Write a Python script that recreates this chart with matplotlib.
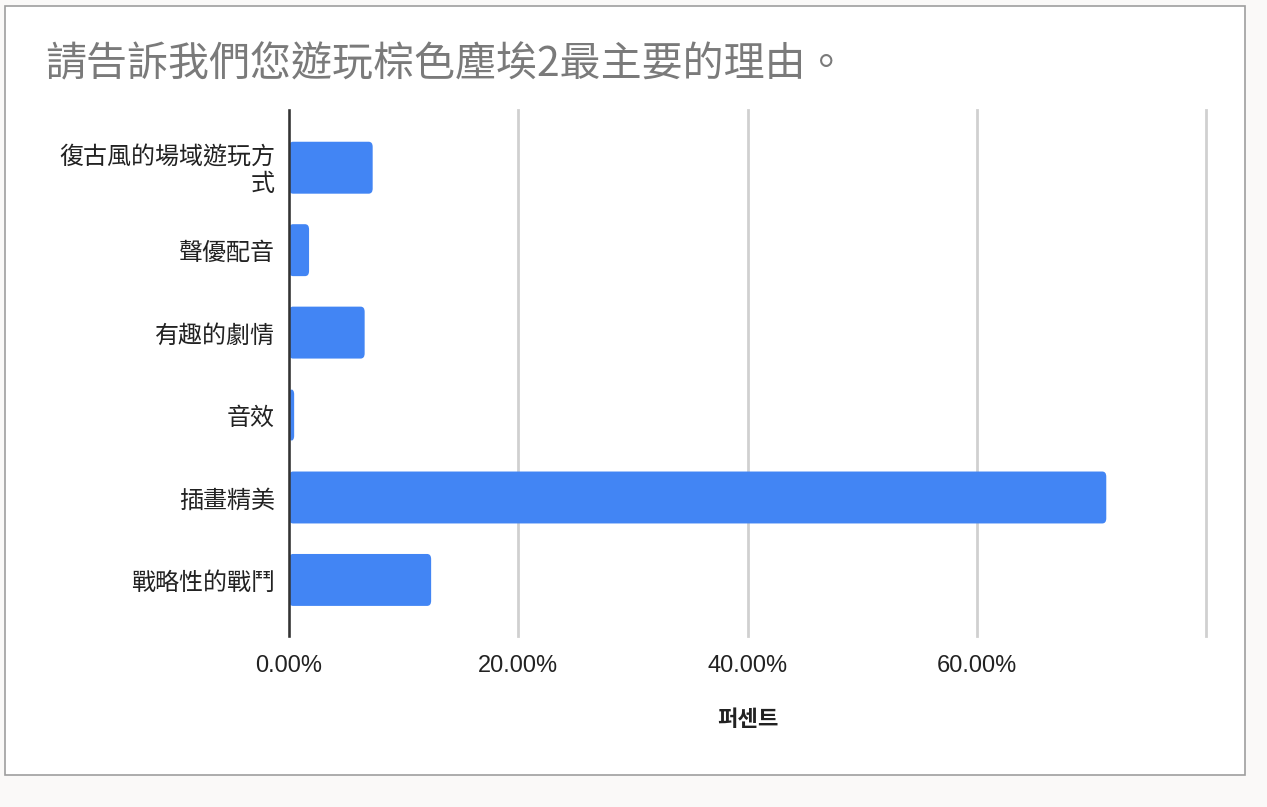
import matplotlib.pyplot as plt
from matplotlib.patches import Rectangle, FancyBboxPatch

# dati
categorie = ['復古風的場域遊玩方\n式', '聲優配音', '有趣的劇情', '音效', '插畫精美', '戰略性的戰鬥']
percentuali = [7.3, 1.75, 6.6, 0.45, 71.3, 12.4]
tick_valori = [0, 20, 40, 60, 80]
tick_etichette = ['0.00%', '20.00%', '40.00%', '60.00%', '']
titolo = '請告訴我們您遊玩棕色塵埃2最主要的理由。'
etichetta_x = '퍼센트'

plt.rcParams['font.family'] = ['Noto Sans CJK TC', 'DejaVu Sans']

W, H = 1267, 807
fig = plt.figure(figsize=(W / 100, H / 100), dpi=100)
fig.patch.set_facecolor('#faf9f8')

# cornice della scheda
fig.patches.append(Rectangle((5 / W, 1 - 775 / H), 1240 / W, 769 / H,
                             transform=fig.transFigure, facecolor='white',
                             edgecolor='#9e9e9e', linewidth=1.2, zorder=-5))

ax = fig.add_axes([289 / W, 1 - 636 / H, (1206 - 289) / W, (636 - 110) / H])
ax.set_zorder(2)
ax.patch.set_alpha(0)

y = list(range(len(categorie)))
altezza = 0.63
for yi, v in zip(y, percentuali):
    ax.add_patch(FancyBboxPatch((0, yi - altezza / 2), v, altezza,
                                boxstyle='round,pad=0,rounding_size=0.35',
                                mutation_aspect=0.18,
                                facecolor='#4285f4', edgecolor='none', zorder=3))

ax.set_xlim(0, 80)
ax.set_ylim(5.68, -0.7)
ax.set_yticks(y)
ax.set_yticklabels(categorie, fontsize=17.3, color='#222222', linespacing=1.0)
ax.set_xticks(tick_valori)
ax.set_xticklabels(tick_etichette, fontsize=17, color='#222222',
                   family=['Liberation Sans', 'DejaVu Sans'])
ax.tick_params(axis='both', length=0)
ax.tick_params(axis='x', pad=14)
ax.tick_params(axis='y', pad=10)

ax.grid(axis='x', color='#d0d0d0', linewidth=2, zorder=0)
for g in ax.get_xgridlines():
    g.set_clip_on(False)
for s in ['top', 'right', 'bottom']:
    ax.spines[s].set_visible(False)
ax.spines['left'].set_color('#333333')
ax.spines['left'].set_linewidth(1.8)
ax.spines['left'].set_zorder(4)

ax.set_xlabel(etichetta_x, fontsize=16, fontweight='bold', color='#222222',
              family=['Noto Sans CJK KR', 'DejaVu Sans'], labelpad=22)

fig.text(45 / W, 1 - 65 / H, titolo, fontsize=29.5, color='#7a7a7a',
         ha='left', va='center')

plt.savefig('out.png', dpi=100)
